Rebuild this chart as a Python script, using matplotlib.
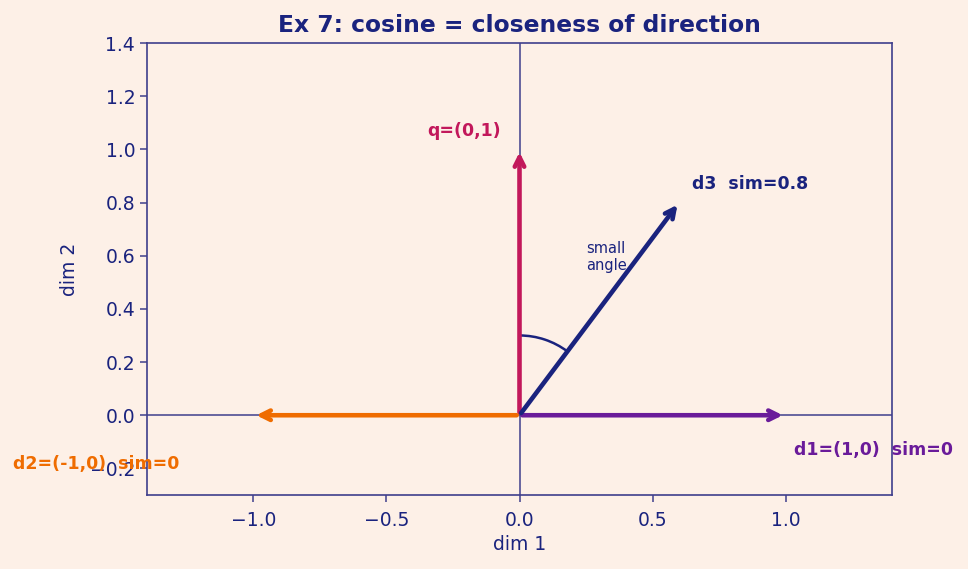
import numpy as np
import matplotlib.pyplot as plt
from matplotlib.patches import Arc

# vectors
names = ['q', 'd1', 'd2', 'd3']
vec_x = [0.0, 1.0, -1.0, 0.6]
vec_y = [1.0, 0.0, 0.0, 0.8]
colors = ['#c2185b', '#6a1b9a', '#ef6c00', '#1a237e']
labels = ['q=(0,1)', 'd1=(1,0)  sim=0', 'd2=(-1,0)  sim=0', 'd3  sim=0.8']
label_x = [-0.07, 1.03, -1.59, 0.65]
label_y = [1.07, -0.13, -0.185, 0.87]
label_ha = ['right', 'left', 'center', 'left']

bg = '#fdf0e7'
navy = '#1a237e'
edge = '#3f3f8c'

fig = plt.figure(figsize=(9.68, 5.69), dpi=100, facecolor=bg)
ax = fig.add_axes([147/968, 1 - 495/569, 745/968, 452/569])
ax.set_facecolor(bg)

ax.axhline(0, color=edge, lw=1.1, zorder=1)
ax.axvline(0, color=edge, lw=1.1, zorder=1)

for i in range(len(names)):
    ax.annotate('', xy=(vec_x[i], vec_y[i]), xytext=(0, 0),
                arrowprops=dict(arrowstyle='->', color=colors[i], lw=3.3,
                                mutation_scale=17), zorder=3)
    ax.text(label_x[i], label_y[i], labels[i], color=colors[i], fontsize=12.5,
            fontweight='bold', ha=label_ha[i], va='center', clip_on=False)

# angle arc between q and d3
ang3 = np.degrees(np.arctan2(vec_y[3], vec_x[3]))
ax.add_patch(Arc((0, 0), 0.6, 0.6, theta1=ang3, theta2=90, color=navy, lw=1.8))
ax.text(0.25, 0.595, 'small\nangle', color=navy, fontsize=10.5, ha='left', va='center',
        linespacing=1.15)

ax.set_xlim(-1.4, 1.4)
ax.set_ylim(-0.3, 1.4)
ax.set_xticks([-1.0, -0.5, 0.0, 0.5, 1.0])
ax.set_yticks(np.arange(-0.2, 1.41, 0.2))
ax.set_xlabel('dim 1', color=navy, fontsize=13.5, labelpad=4)
ax.set_ylabel('dim 2', color=navy, fontsize=13.5, labelpad=8)
ax.set_title('Ex 7: cosine = closeness of direction', color=navy, fontsize=16.8,
             fontweight='bold', pad=8)
ax.tick_params(colors=edge, labelcolor=navy, labelsize=13.5, width=1.1, length=5)
ax.tick_params(axis='x', pad=6.3)
for s in ax.spines.values():
    s.set_color(edge)
    s.set_linewidth(1.2)

fig.savefig('out.png', dpi=100, facecolor=bg)
